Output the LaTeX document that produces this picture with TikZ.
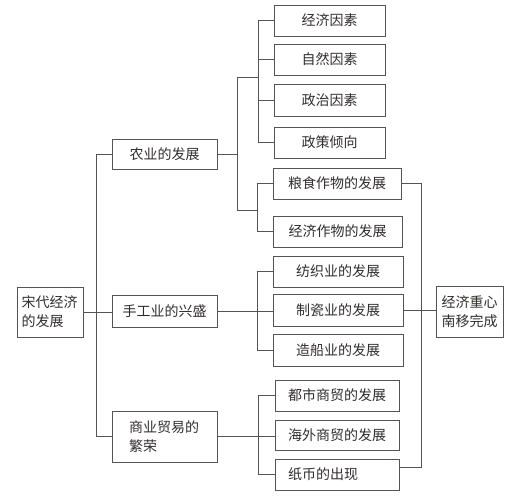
\documentclass[tikz,border=0pt]{standalone}
\usepackage{fontspec}
\setmainfont{Noto Sans CJK SC}
\definecolor{linec}{RGB}{88,82,82}
\definecolor{textc}{RGB}{50,45,45}
\begin{document}
\begin{tikzpicture}[x=1pt,y=-1pt,
  box/.style={draw=linec, line width=0.9pt, inner sep=0pt, text=textc,
    font=\fontsize{14}{19}\selectfont, minimum height=31pt},
  conn/.style={draw=linec, line width=0.9pt}]
\useasboundingbox (0,0) rectangle (529,500);
% root and level 1
\node[box, minimum width=66pt, minimum height=50pt, text width=57pt, align=left] (root) at (50,312) {宋代经济\\的发展};
\node[box, minimum width=105pt, minimum height=30pt] (nong) at (164.5,154) {农业的发展};
\node[box, minimum width=105pt, minimum height=32pt] (shou) at (164.5,311) {手工业的兴盛};
\node[box, minimum width=105pt, minimum height=51pt, text width=71pt, align=left] (shang) at (164.5,436.5) {商业贸易的\\繁荣};
% factors
\node[box, minimum width=111pt] (f1) at (329.5,20.5) {经济因素};
\node[box, minimum width=111pt] (f2) at (329.5,59.5) {自然因素};
\node[box, minimum width=111pt, minimum height=32pt] (f3) at (329.5,100) {政治因素};
\node[box, minimum width=111pt] (f4) at (329.5,142.5) {政策倾向};
% crops
\node[box, minimum width=128pt] (c1) at (337,183.5) {粮食作物的发展};
\node[box, minimum width=129pt] (c2) at (337.5,231.5) {经济作物的发展};
% handicraft
\node[box, minimum width=130pt] (h1) at (338,271.5) {纺织业的发展};
\node[box, minimum width=130pt, minimum height=32pt] (h2) at (338,310) {制瓷业的发展};
\node[box, minimum width=130pt, minimum height=32pt] (h3) at (338,350) {造船业的发展};
% commerce
\node[box, minimum width=124pt] (s1) at (337,395.5) {都市商贸的发展};
\node[box, minimum width=124pt, minimum height=30pt] (s2) at (337,435) {海外商贸的发展};
\node[box, minimum width=124pt, text width=98pt, align=left] (s3) at (337,474.5) {纸币的出现};
% result
\node[box, minimum width=67pt, minimum height=51pt, align=center] (res) at (469.5,311.5) {经济重心\\南移完成};
% connectors: trunk
\draw[conn] (nong.west) -- ++(-15,0) |- (shang.west);
\draw[conn] (root.east) -- (root.east -| shou.west);
% agriculture branch
\coordinate (j1) at (237,77);
\coordinate (j2) at (237,210);
\draw[conn] (nong.east) -- (nong.east -| j1);
\draw[conn] (j1) -- (j2);
\draw[conn] (f1.west) -- ++(-15,0) |- (f4.west);
\draw[conn] (f2.west) -- ++(-15,0);
\draw[conn] (f3.west) -- ++(-15,0);
\draw[conn] (j1) -- ++(22,0);
\draw[conn] (c1.west) -- ++(-15,0) |- (c2.west);
\draw[conn] (j2) -- ++(21,0);
% handicraft branch
\draw[conn] (h1.west) -- ++(-15,0) |- (h3.west);
\draw[conn] (shou.east) -- (shou.east -| h2.west);
% commerce branch
\draw[conn] (s1.west) -- ++(-16,0) |- (s3.west);
\draw[conn] (shang.east) -- (shang.east -| s2.west);
% right-side connectors
\draw[conn] (c1.east) -- ++(20,0) |- ([yshift=7.5pt]s3.east);
\draw[conn] (h2.east) -- (h2.east -| res.west);
\end{tikzpicture}
\end{document}
